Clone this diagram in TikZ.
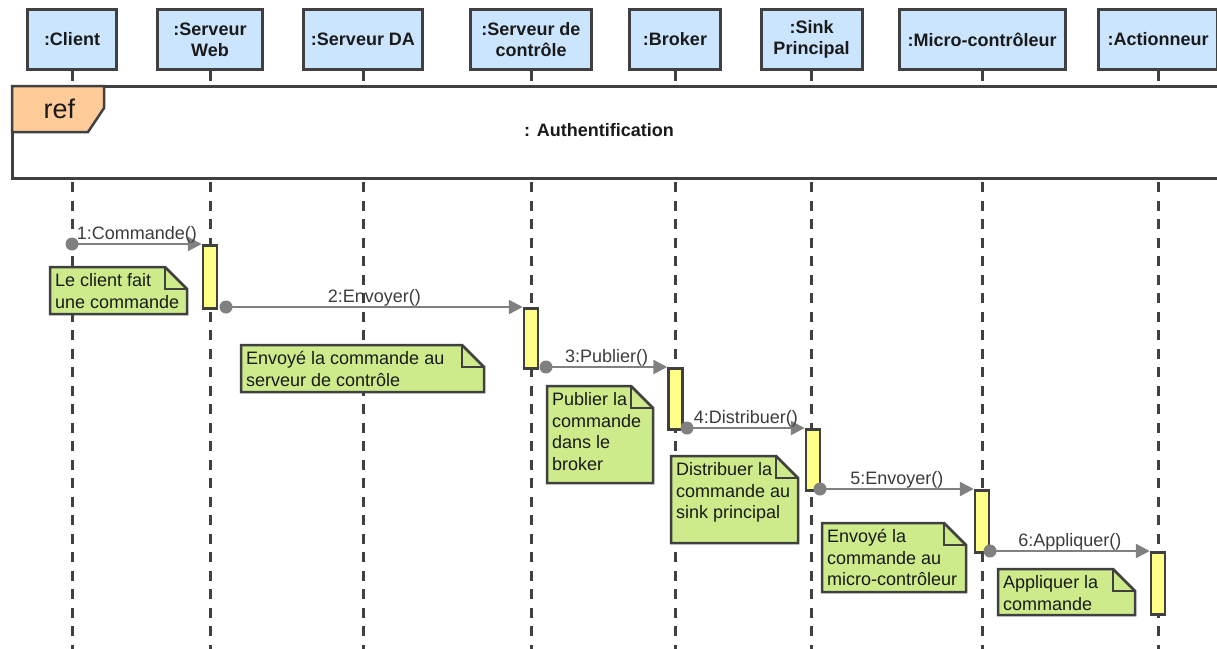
\documentclass[tikz,border=0pt]{standalone}
\usepackage{fontspec}
\setmainfont{Liberation Sans}
\usetikzlibrary{arrows.meta}

\definecolor{hdrfill}{HTML}{CCE5FF}
\definecolor{edgecol}{HTML}{404040}
\definecolor{notefill}{HTML}{CDEB8B}
\definecolor{actfill}{HTML}{FFFF88}
\definecolor{reffill}{HTML}{FFCC99}
\definecolor{msgcol}{HTML}{808080}
\definecolor{txtcol}{HTML}{1A1A1A}

% UML note with a folded top-right corner: name, left, top, right, bottom, text
\newcommand\umlnote[6]{%
  \draw[notebox] (#2,#3) -- (#4-22,#3) -- (#4,#3+22) -- (#4,#5) -- (#2,#5) -- cycle;
  \draw[notebox, fill=none, line join=miter] (#4-22,#3) -- (#4-22,#3+22) -- (#4,#3+22);
  \node[notetext] (#1) at (#2,#3) {#6};
}

\begin{document}
\begin{tikzpicture}[x=1pt, y=-1pt,
  font=\fontsize{18}{21.5}\selectfont,
  hdr/.style={draw=edgecol, line width=3pt, fill=hdrfill, minimum height=60pt,
    inner sep=0pt, align=center, text=txtcol,
    font=\fontsize{18}{21}\selectfont\bfseries},
  life/.style={draw=edgecol, line width=3pt, dash pattern=on 10pt off 8.5pt},
  act/.style={draw=edgecol, line width=2.5pt, fill=actfill, minimum width=14pt,
    inner sep=0pt, anchor=north},
  msg/.style={draw=msgcol, line width=2.5pt, -{Triangle[length=14pt,width=14pt]}},
  lbl/.style={midway, anchor=base, yshift=5pt, inner sep=0pt, text=txtcol!85},
  dot/.style={fill=msgcol},
  notebox/.style={draw=edgecol, line width=2.5pt, fill=notefill, line join=miter},
  notetext/.style={anchor=north west, align=left, inner xsep=5pt, inner ysep=6.5pt, text=txtcol},
]
\useasboundingbox (0,0) rectangle (1217,648);

% lifeline heads
\node[hdr, minimum width=89pt]  (client) at (72,39.5)    {:Client};
\node[hdr, minimum width=105pt] (web)    at (210,39.5)   {:Serveur\\Web};
\node[hdr, minimum width=119pt] (da)     at (363,39.5)   {:Serveur DA};
\node[hdr, minimum width=121pt] (ctrl)   at (531,39.5)   {:Serveur de\\contrôle};
\node[hdr, minimum width=91pt]  (broker) at (675,39.5)   {:Broker};
\node[hdr, minimum width=101pt] (sink)   at (811.5,39.5) {:Sink\\Principal};
\node[hdr, minimum width=166pt] (micro)  at (982,39.5)   {:Micro-contrôleur};
\node[hdr, minimum width=119pt] (act)    at (1158,39.5)  {:Actionneur};

% dashed lifelines
\foreach \n in {client,web,da,ctrl,broker,sink,micro,act}
  \draw[life] (\n.south) -- (\n.south |- 0,660);

% interaction use frame
\draw[draw=edgecol, line width=3pt, fill=white] (12,86) rectangle (1228,178);
\draw[draw=edgecol, line width=2.5pt, fill=reffill, line join=miter]
  (12,86) -- (104,86) -- (104,108) -- (88,132) -- (12,132) -- cycle;
\node[font=\fontsize{27}{30}\selectfont, text=txtcol] (reflbl) at (59.5,109) {ref};
\node[font=\fontsize{18}{21}\selectfont\bfseries, text=txtcol] (authlbl) at (599,130) {: Authentification};

% activation bars
\node[act, minimum height=63pt] (a1) at (210,244)  {};
\node[act, minimum height=60pt] (a2) at (531,307)  {};
\node[act, minimum height=61pt] (a3) at (675.5,367) {};
\node[act, minimum height=61pt] (a4) at (813,428)  {};
\node[act, minimum height=62pt] (a5) at (982,489)  {};
\node[act, minimum height=62pt] (a6) at (1158,551) {};

% message start points
\coordinate (s1) at (client.south |- a1.north);
\coordinate (s2) at (226,307);
\coordinate (s3) at (546,367);
\coordinate (s4) at (687,428);
\coordinate (s5) at (820,489);
\coordinate (s6) at (990,551);

% messages
\draw[msg] (s1) -- (a1.north west) node[lbl] {1:Commande()};
\draw[msg] (s2) -- (a2.north west) node[lbl] {2:Envoyer()};
\draw[msg] (s3) -- (a3.north west) node[lbl] {3:Publier()};
\draw[msg] (s4) -- (a4.north west) node[lbl] {4:Distribuer()};
\draw[msg] (s5) -- (a5.north west) node[lbl] {5:Envoyer()};
\draw[msg] (s6) -- (a6.north west) node[lbl] {6:Appliquer()};
\foreach \s in {s1,s2,s3,s4,s5,s6}
  \fill[dot] (\s) circle (6.5pt);

% notes
\umlnote{n1}{50}{267}{187}{314}{Le client fait\\une commande}
\umlnote{n2}{241}{345}{484}{392}{Envoyé la commande au\\serveur de contrôle}
\umlnote{n3}{547}{386}{653}{483}{Publier la\\commande\\dans le\\broker}
\umlnote{n4}{671}{456}{798}{543}{Distribuer la\\commande au\\sink principal}
\umlnote{n5}{822}{523}{966}{592}{Envoyé la\\commande au\\micro-contrôleur}
\umlnote{n6}{998}{569}{1135}{615}{Appliquer la\\commande}
\end{tikzpicture}
\end{document}
